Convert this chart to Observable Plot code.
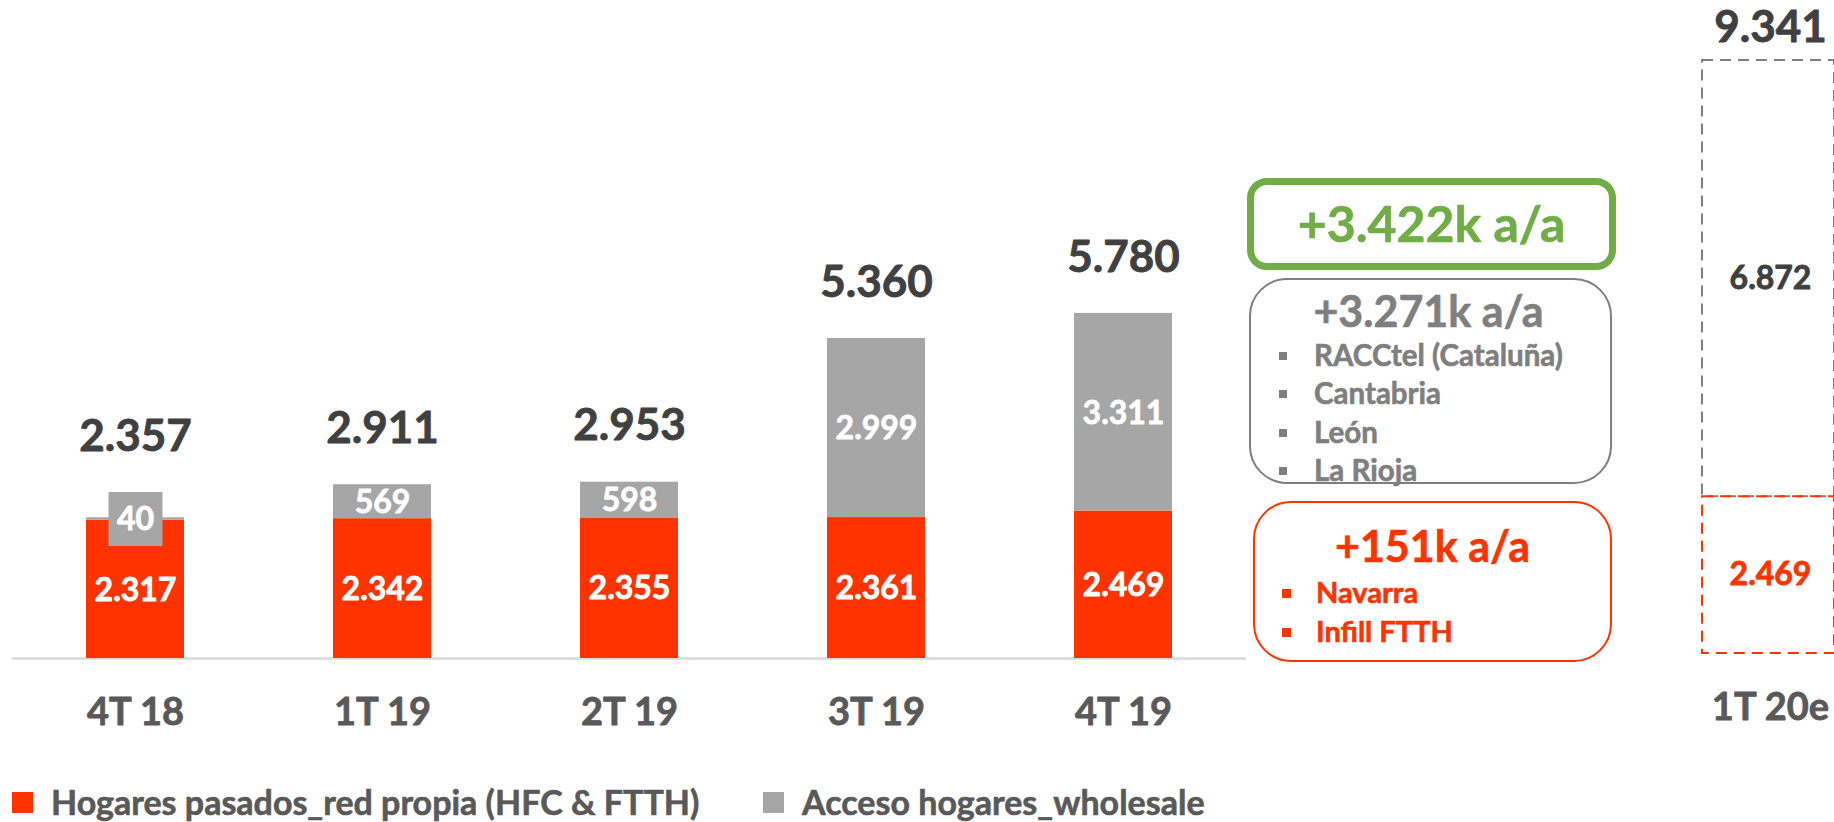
<!DOCTYPE html>
<html>
<head>
<meta charset="utf-8">
<script src="https://cdn.jsdelivr.net/npm/d3@7"></script>
<script src="https://cdn.jsdelivr.net/npm/@observablehq/plot@0.6"></script>
<style>
html, body { margin: 0; padding: 0; background: #fff; overflow: hidden; }
#wrap { position: relative; width: 1834px; height: 822px; font-family: Lato, "Open Sans", sans-serif; font-weight: 700; }
#wrap div { -webkit-text-stroke: 0.6px currentColor; }
</style>
</head>
<body>
<div id="wrap"></div>
<script>
// ---------- data ----------
const quarters = ["4T 18", "1T 19", "2T 19", "3T 19", "4T 19"];
const seriesNames = ["Hogares pasados_red propia (HFC & FTTH)", "Acceso hogares_wholesale"];
const propia = [2317, 2342, 2355, 2361, 2469];
const wholesale = [40, 569, 598, 2999, 3311];
const totals = [2357, 2911, 2953, 5360, 5780];

const forecastQuarter = ["1T 20e"];
const forecastPropia = [2469];
const forecastWholesale = [6872];
const forecastTotal = [9341];

const greenNote = "+3.422k a/a";
const grayNote = "+3.271k a/a";
const grayItems = ["RACCtel (Cataluña)", "Cantabria", "León", "La Rioja"];
const redNote = "+151k a/a";
const redItems = ["Navarra", "Infill FTTH"];

// ---------- styles ----------
const RED = "#FF3300", GRAY = "#A6A6A6", GREEN = "#70AD47", BOXGRAY = "#7F7F7F";
const DARK = "#404040", AXIS = "#595959";
const FONT = "Lato, 'Open Sans', sans-serif";
const fmt = d3.formatLocale({decimal: ",", thousands: ".", grouping: [3], currency: ["", ""]}).format(",d");
const TS = 0.8; // slight stroke to thicken glyphs

const wrap = document.getElementById("wrap");
function place(el, css) { Object.assign(el.style, css); wrap.appendChild(el); return el; }

// ---------- main chart ----------
const H = 770, Y0 = 658, Y1 = 61, YMAX = 10000;
const pxPerUnit = (Y0 - Y1) / YMAX;
const BOX = 54;        // label box side for segments too thin to hold their label
const THIN_PX = 20;    // segment thinner than this gets a label box

const rows = quarters.flatMap((q, i) => [
  {q, series: seriesNames[0], value: propia[i], lo: 0, hi: propia[i]},
  {q, series: seriesNames[1], value: wholesale[i], lo: propia[i], hi: propia[i] + wholesale[i]}
]);
const thin = rows.filter(d => d.value * pxPerUnit < THIN_PX);
const totalRows = quarters.map((q, i) => ({
  q, total: totals[i],
  base: Math.max(totals[i], propia[i] + (wholesale[i] * pxPerUnit < THIN_PX ? BOX / 2 / pxPerUnit : 0))
}));

const main = Plot.plot({
  width: 1250, height: H,
  marginLeft: 11.5, marginRight: 4, marginTop: Y1, marginBottom: H - Y0,
  style: {fontFamily: FONT, background: "transparent", overflow: "visible"},
  x: {domain: quarters, range: [11.5, 1246], paddingInner: 0.603, paddingOuter: 0.3, axis: null},
  y: {domain: [0, YMAX], range: [Y0, Y1], axis: null},
  color: {domain: seriesNames, range: [RED, GRAY]},
  marks: [
    Plot.ruleY([0], {stroke: "#D9D9D9", strokeWidth: 2.5}),
    Plot.rectY(rows, {x: "q", y1: "lo", y2: "hi", fill: "series"}),
    Plot.dot(thin, {x: "q", y: d => (d.lo + d.hi) / 2, symbol: "square", r: BOX / Math.sqrt(Math.PI), fill: "series", stroke: null}),
    Plot.text(rows, {x: "q", y: d => (d.lo + d.hi) / 2, text: d => fmt(d.value), fill: "white", stroke: "white", strokeWidth: TS, fontSize: 32, fontWeight: "bold", dy: 1}),
    Plot.text(totalRows, {x: "q", y: "base", text: d => fmt(d.total), fill: DARK, stroke: DARK, strokeWidth: TS, fontSize: 44, fontWeight: "bold", dy: -56}),
    Plot.text(quarters, {x: d => d, y: () => 0, text: d => d, fill: AXIS, stroke: AXIS, strokeWidth: TS, fontSize: 38, fontWeight: "bold", dy: 54})
  ]
});
const mainDiv = place(document.createElement("div"), {position: "absolute", left: "0px", top: "0px", width: "1250px", height: H + "px"});
mainDiv.appendChild(main);

// ---------- forecast inset (own scale) ----------
const IY0 = 653, IY1 = 60, IYMAX = 9341;
const fRows = forecastQuarter.flatMap((q, i) => [
  {q, series: seriesNames[1], value: forecastWholesale[i], lo: forecastPropia[i], hi: forecastPropia[i] + forecastWholesale[i], color: BOXGRAY, label: DARK},
  {q, series: seriesNames[0], value: forecastPropia[i], lo: 0, hi: forecastPropia[i], color: RED, label: RED}
]);
const inset = Plot.plot({
  width: 194, height: H,
  marginLeft: 62, marginRight: 0, marginTop: IY1, marginBottom: H - IY0,
  style: {fontFamily: FONT, background: "transparent"},
  x: {domain: forecastQuarter, range: [62, 198], padding: 0, axis: null},
  y: {domain: [0, IYMAX], range: [IY0, IY1], axis: null},
  marks: [
    Plot.rectY(fRows, {x: "q", y1: "lo", y2: "hi", fill: "none", stroke: d => d.color, strokeWidth: 2, strokeDasharray: "11,7"}),
    Plot.text(fRows, {x: "q", y: d => (d.lo + d.hi) / 2, text: d => fmt(d.value), fill: d => d.label, stroke: d => d.label, strokeWidth: TS, fontSize: 32, fontWeight: "bold"}),
    Plot.text(forecastQuarter, {x: d => d, y: (d, i) => forecastTotal[i], text: (d, i) => fmt(forecastTotal[i]), fill: DARK, stroke: DARK, strokeWidth: TS, fontSize: 44, fontWeight: "bold", dy: -33}),
    Plot.text(forecastQuarter, {x: d => d, y: () => 0, text: d => d, fill: AXIS, stroke: AXIS, strokeWidth: TS, fontSize: 38, fontWeight: "bold", dy: 54})
  ]
});
const insetDiv = place(document.createElement("div"), {position: "absolute", left: "1640px", top: "0px", width: "194px", height: H + "px", overflow: "hidden"});
insetDiv.appendChild(inset);

// ---------- annotation boxes ----------
function div(css, text) { const d = document.createElement("div"); if (text != null) d.textContent = text; return place(d, css); }

div({position: "absolute", boxSizing: "border-box", left: "1247px", top: "178px", width: "369px", height: "92px",
     border: `7px solid ${GREEN}`, borderRadius: "20px"});
div({position: "absolute", left: "1247px", width: "369px", top: "198px", lineHeight: "50px", textAlign: "center",
     fontSize: "50px", color: GREEN, whiteSpace: "nowrap"}, greenNote);

div({position: "absolute", boxSizing: "border-box", left: "1249px", top: "278px", width: "363px", height: "206px",
     border: `2.5px solid ${BOXGRAY}`, borderRadius: "38px"});
div({position: "absolute", left: "1247px", width: "363px", top: "286px", lineHeight: "50px", textAlign: "center",
     fontSize: "43px", color: BOXGRAY, whiteSpace: "nowrap"}, grayNote);
grayItems.forEach((t, i) => {
  const c = 356 + i * 38.4;
  div({position: "absolute", left: "1279px", top: (c - 4) + "px", width: "8px", height: "8px", background: BOXGRAY});
  div({position: "absolute", left: "1314px", top: (c - 18) + "px", lineHeight: "34px", fontSize: "29.5px", color: BOXGRAY, whiteSpace: "nowrap"}, t);
});

div({position: "absolute", boxSizing: "border-box", left: "1253px", top: "501px", width: "359px", height: "161px",
     border: `2.5px solid ${RED}`, borderRadius: "38px"});
div({position: "absolute", left: "1253px", width: "359px", top: "521px", lineHeight: "50px", textAlign: "center",
     fontSize: "43px", color: RED, whiteSpace: "nowrap"}, redNote);
redItems.forEach((t, i) => {
  const c = 593 + i * 39;
  div({position: "absolute", left: "1282px", top: (c - 4.5) + "px", width: "9px", height: "9px", background: RED});
  div({position: "absolute", left: "1316px", top: (c - 18) + "px", lineHeight: "34px", fontSize: "29px", color: RED, whiteSpace: "nowrap"}, t);
});

// ---------- legend ----------
const legendColors = [RED, GRAY];
const legendLeft = [12, 763];
seriesNames.forEach((s, i) => {
  div({position: "absolute", left: legendLeft[i] + "px", top: "792px", width: "21px", height: "21px", background: legendColors[i]});
  div({position: "absolute", left: (legendLeft[i] + 39) + "px", top: "782px", lineHeight: "40px", fontSize: "34px", color: AXIS, whiteSpace: "nowrap"}, s);
});
</script>
</body>
</html>
